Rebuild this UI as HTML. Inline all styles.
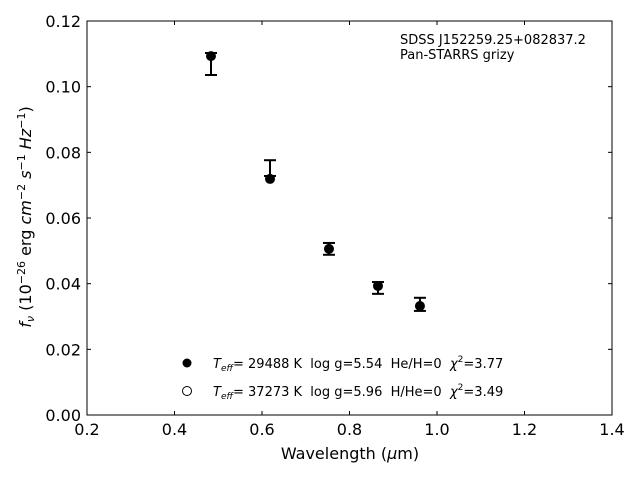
<!DOCTYPE html>
<html><head><meta charset="utf-8"><style>
body{margin:0;background:#fff}
svg{display:block;font-family:"DejaVu Sans","Liberation Sans",sans-serif}
text{white-space:pre}
</style></head><body>
<svg id="c" width="640" height="480"></svg>
<script>
const wavelengths=[0.4834,0.6183,0.7531,0.8651,0.961];
const obsFlux=[0.1069,0.0752,0.0506,0.0387,0.0337];
const obsErr=[0.00335,0.0024,0.0018,0.0018,0.002];
const modelH=[0.1093,0.0719,0.0506,0.0393,0.0332];
const modelHe=[0.1093,0.0719,0.0506,0.0393,0.0332];
const xTicks=[0.2,0.4,0.6,0.8,1.0,1.2,1.4];
const yTicks=[0,0.02,0.04,0.06,0.08,0.10,0.12];
const X0=87,X1=612,Y0=415,Y1=21;
const sx=v=>X0+(v-0.2)/1.2*(X1-X0);
const sy=v=>Y0-v/0.12*(Y0-Y1);
const svg=document.getElementById('c');
const NS='http://www.w3.org/2000/svg';
function mk(t,a,p){const e=document.createElementNS(NS,t);for(const k in a)e.setAttribute(k,a[k]);(p||svg).appendChild(e);return e;}
let e=mk('rect',{x:X0,y:Y1,width:X1-X0,height:Y0-Y1,fill:'none',stroke:'#000','stroke-width':1});


xTicks.forEach(t=>{const x=sx(t);
mk('line',{x1:x,x2:x,y1:Y0,y2:Y0-4,stroke:'#000'});mk('line',{x1:x,x2:x,y1:Y1,y2:Y1+4,stroke:'#000'});
const l=mk('text',{x:x,y:Y0+20,'text-anchor':'middle','font-size':16});l.textContent=t.toFixed(1);

});
yTicks.forEach(t=>{const y=sy(t);
mk('line',{x1:X0,x2:X0+4,y1:y,y2:y,stroke:'#000'});mk('line',{x1:X1,x2:X1-4,y1:y,y2:y,stroke:'#000'});
const l=mk('text',{x:X0-6,y:y+6,'text-anchor':'end','font-size':16});l.textContent=t.toFixed(2);

});
wavelengths.forEach((w,i)=>{const x=sx(w);
mk('circle',{cx:x,cy:sy(modelHe[i]),r:4.5,fill:'#fff',stroke:'#000'});
const m=mk('circle',{cx:x,cy:sy(modelH[i]),r:4.5,fill:'#000'});


const g=mk('g',{stroke:'#000','stroke-width':2});


const t=sy(obsFlux[i]+obsErr[i]),b=sy(obsFlux[i]-obsErr[i]);
mk('line',{x1:x,x2:x,y1:t,y2:b},g);mk('line',{x1:x-6,x2:x+6,y1:t,y2:t},g);mk('line',{x1:x-6,x2:x+6,y1:b,y2:b},g);});
</script>
<svg width="640" height="480" style="position:absolute;left:0;top:0" font-family="DejaVu Sans, Liberation Sans, sans-serif">
<text x="400" y="44" font-size="13">SDSS J152259.25+082837.2</text>
<text x="400" y="59" font-size="13">Pan-STARRS grizy</text>
<g font-size="13">
<circle cx="187" cy="363" r="4.5" fill="#000"/>
<text x="213" y="368" xml:space="preserve"><tspan font-style="italic">T</tspan><tspan font-style="italic" font-size="9" dy="3">eff</tspan><tspan dy="-3">= 29488 K  log g=5.54  He/H=0  </tspan><tspan font-style="italic">χ</tspan><tspan font-size="9" dy="-6">2</tspan><tspan dy="6">=3.77</tspan></text>
<circle cx="187" cy="391" r="4.5" fill="#fff" stroke="#000"/>
<text x="213" y="396" xml:space="preserve"><tspan font-style="italic">T</tspan><tspan font-style="italic" font-size="9" dy="3">eff</tspan><tspan dy="-3">= 37273 K  log g=5.96  H/He=0  </tspan><tspan font-style="italic">χ</tspan><tspan font-size="9" dy="-6">2</tspan><tspan dy="6">=3.49</tspan></text>
</g>
<text x="350" y="459" font-size="16" text-anchor="middle">Wavelength (<tspan font-style="italic">μ</tspan>m)</text>
<text transform="translate(31,217) rotate(-90)" font-size="16" text-anchor="middle"><tspan font-style="italic">f</tspan><tspan font-style="italic" font-size="11" dy="3">ν</tspan><tspan dy="-3"> (10</tspan><tspan font-size="11" dy="-6">−26</tspan><tspan dy="6"> erg </tspan><tspan font-style="italic">cm</tspan><tspan font-size="11" dy="-6">−2</tspan><tspan dy="6" font-style="italic"> s</tspan><tspan font-size="11" dy="-6">−1</tspan><tspan dy="6" font-style="italic"> Hz</tspan><tspan font-size="11" dy="-6">−1</tspan><tspan dy="6">)</tspan></text>
</svg>
</body></html>
